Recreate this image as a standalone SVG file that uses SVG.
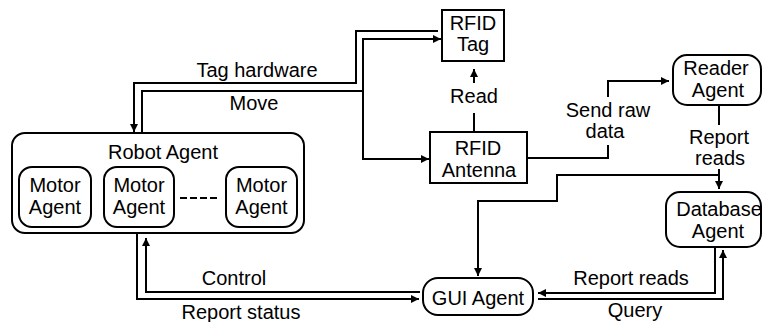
<svg xmlns="http://www.w3.org/2000/svg" width="763" height="322" viewBox="0 0 763 322">
  <style>
    .box { fill: #ffffff; stroke: #000000; stroke-width: 2; }
    .wire { fill: none; stroke: #000000; stroke-width: 2; }
    .arrow { fill: none; stroke: #000000; stroke-width: 2; marker-end: url(#head); }
    text { font-family: "Liberation Sans", Arial, sans-serif; font-size: 20px; fill: #000000; text-anchor: middle; }
  </style>
  <defs>
    <marker id="head" markerUnits="userSpaceOnUse" markerWidth="9" markerHeight="9" refX="8" refY="4" orient="auto">
      <path d="M0,0 L8,4 L0,8 z" fill="#000000"/>
    </marker>
  </defs>
  <rect width="763" height="322" fill="#ffffff"/>

  <!-- connectors -->
  <g id="connectors">
    <!-- Tag hardware: tag to robot -->
    <path class="arrow" d="M438,31 H356 V83 H134 V132"/>
    <!-- Move: robot to tag and antenna -->
    <path class="arrow" d="M142,132 V91 H363 V39 H441"/>
    <path class="arrow" d="M363,90 V159 H429"/>
    <!-- Read: antenna to tag -->
    <path class="wire" d="M474,131 V113"/>
    <path class="arrow" d="M474,83 V69"/>
    <!-- Send raw data: antenna to reader -->
    <path class="wire" d="M528,158 H608 V145"/>
    <path class="arrow" d="M608,97 V81 H669"/>
    <!-- Report reads: reader to database and GUI -->
    <path class="wire" d="M719,105 V125"/>
    <path class="arrow" d="M719,169 V189"/>
    <path class="arrow" d="M719,175 H557 V201 H478 V276"/>
    <!-- Report reads: database to GUI -->
    <path class="arrow" d="M715,248 V293 H538"/>
    <!-- Query: GUI to database -->
    <path class="arrow" d="M538,299 H723 V250"/>
    <!-- Control: GUI to robot -->
    <path class="arrow" d="M420,292 H146 V238"/>
    <!-- Report status: robot to GUI -->
    <path class="arrow" d="M137,234 V299 H419"/>
  </g>

  <!-- connector labels -->
  <g id="labels">
    <text x="257" y="77">Tag hardware</text>
    <text x="254" y="110">Move</text>
    <text x="474" y="103">Read</text>
    <text x="608" y="117">Send raw</text>
    <text x="605" y="138">data</text>
    <text x="719" y="144">Report</text>
    <text x="720" y="165">reads</text>
    <text x="631" y="285">Report reads</text>
    <text x="635" y="317">Query</text>
    <text x="234" y="285">Control</text>
    <text x="241" y="319">Report status</text>
  </g>

  <g id="rfid-tag">
    <rect class="box" x="442" y="10" width="62" height="51"/>
    <text x="473" y="30">RFID</text>
    <text x="473" y="51">Tag</text>
  </g>

  <g id="rfid-antenna">
    <rect class="box" x="430" y="132" width="97" height="51"/>
    <text x="478" y="155">RFID</text>
    <text x="479" y="177">Antenna</text>
  </g>

  <g id="reader-agent">
    <rect class="box" x="673" y="55" width="88" height="50" rx="14" ry="14"/>
    <text x="716" y="75">Reader</text>
    <text x="718" y="97">Agent</text>
  </g>

  <g id="database-agent">
    <rect class="box" x="666" y="192" width="95" height="55" rx="14" ry="14"/>
    <text x="719" y="216">Database</text>
    <text x="718" y="238">Agent</text>
  </g>

  <g id="gui-agent">
    <rect class="box" x="423" y="278" width="110" height="37" rx="15" ry="15"/>
    <text x="478" y="305">GUI Agent</text>
  </g>

  <g id="robot-agent">
    <rect class="box" x="12" y="133" width="292" height="100" rx="13" ry="13"/>
    <text x="163" y="159">Robot Agent</text>
    <g id="motor-agent-1">
      <rect class="box" x="19" y="167" width="72" height="60" rx="13" ry="13"/>
      <text x="55" y="192">Motor</text>
      <text x="55" y="214">Agent</text>
    </g>
    <g id="motor-agent-2">
      <rect class="box" x="104" y="167" width="70" height="60" rx="13" ry="13"/>
      <text x="139" y="192">Motor</text>
      <text x="139" y="214">Agent</text>
    </g>
    <path class="wire" d="M180,198 H217" stroke-dasharray="7,3"/>
    <g id="motor-agent-3">
      <rect class="box" x="226" y="167" width="71" height="60" rx="13" ry="13"/>
      <text x="261.5" y="192">Motor</text>
      <text x="261.5" y="214">Agent</text>
    </g>
  </g>
</svg>
